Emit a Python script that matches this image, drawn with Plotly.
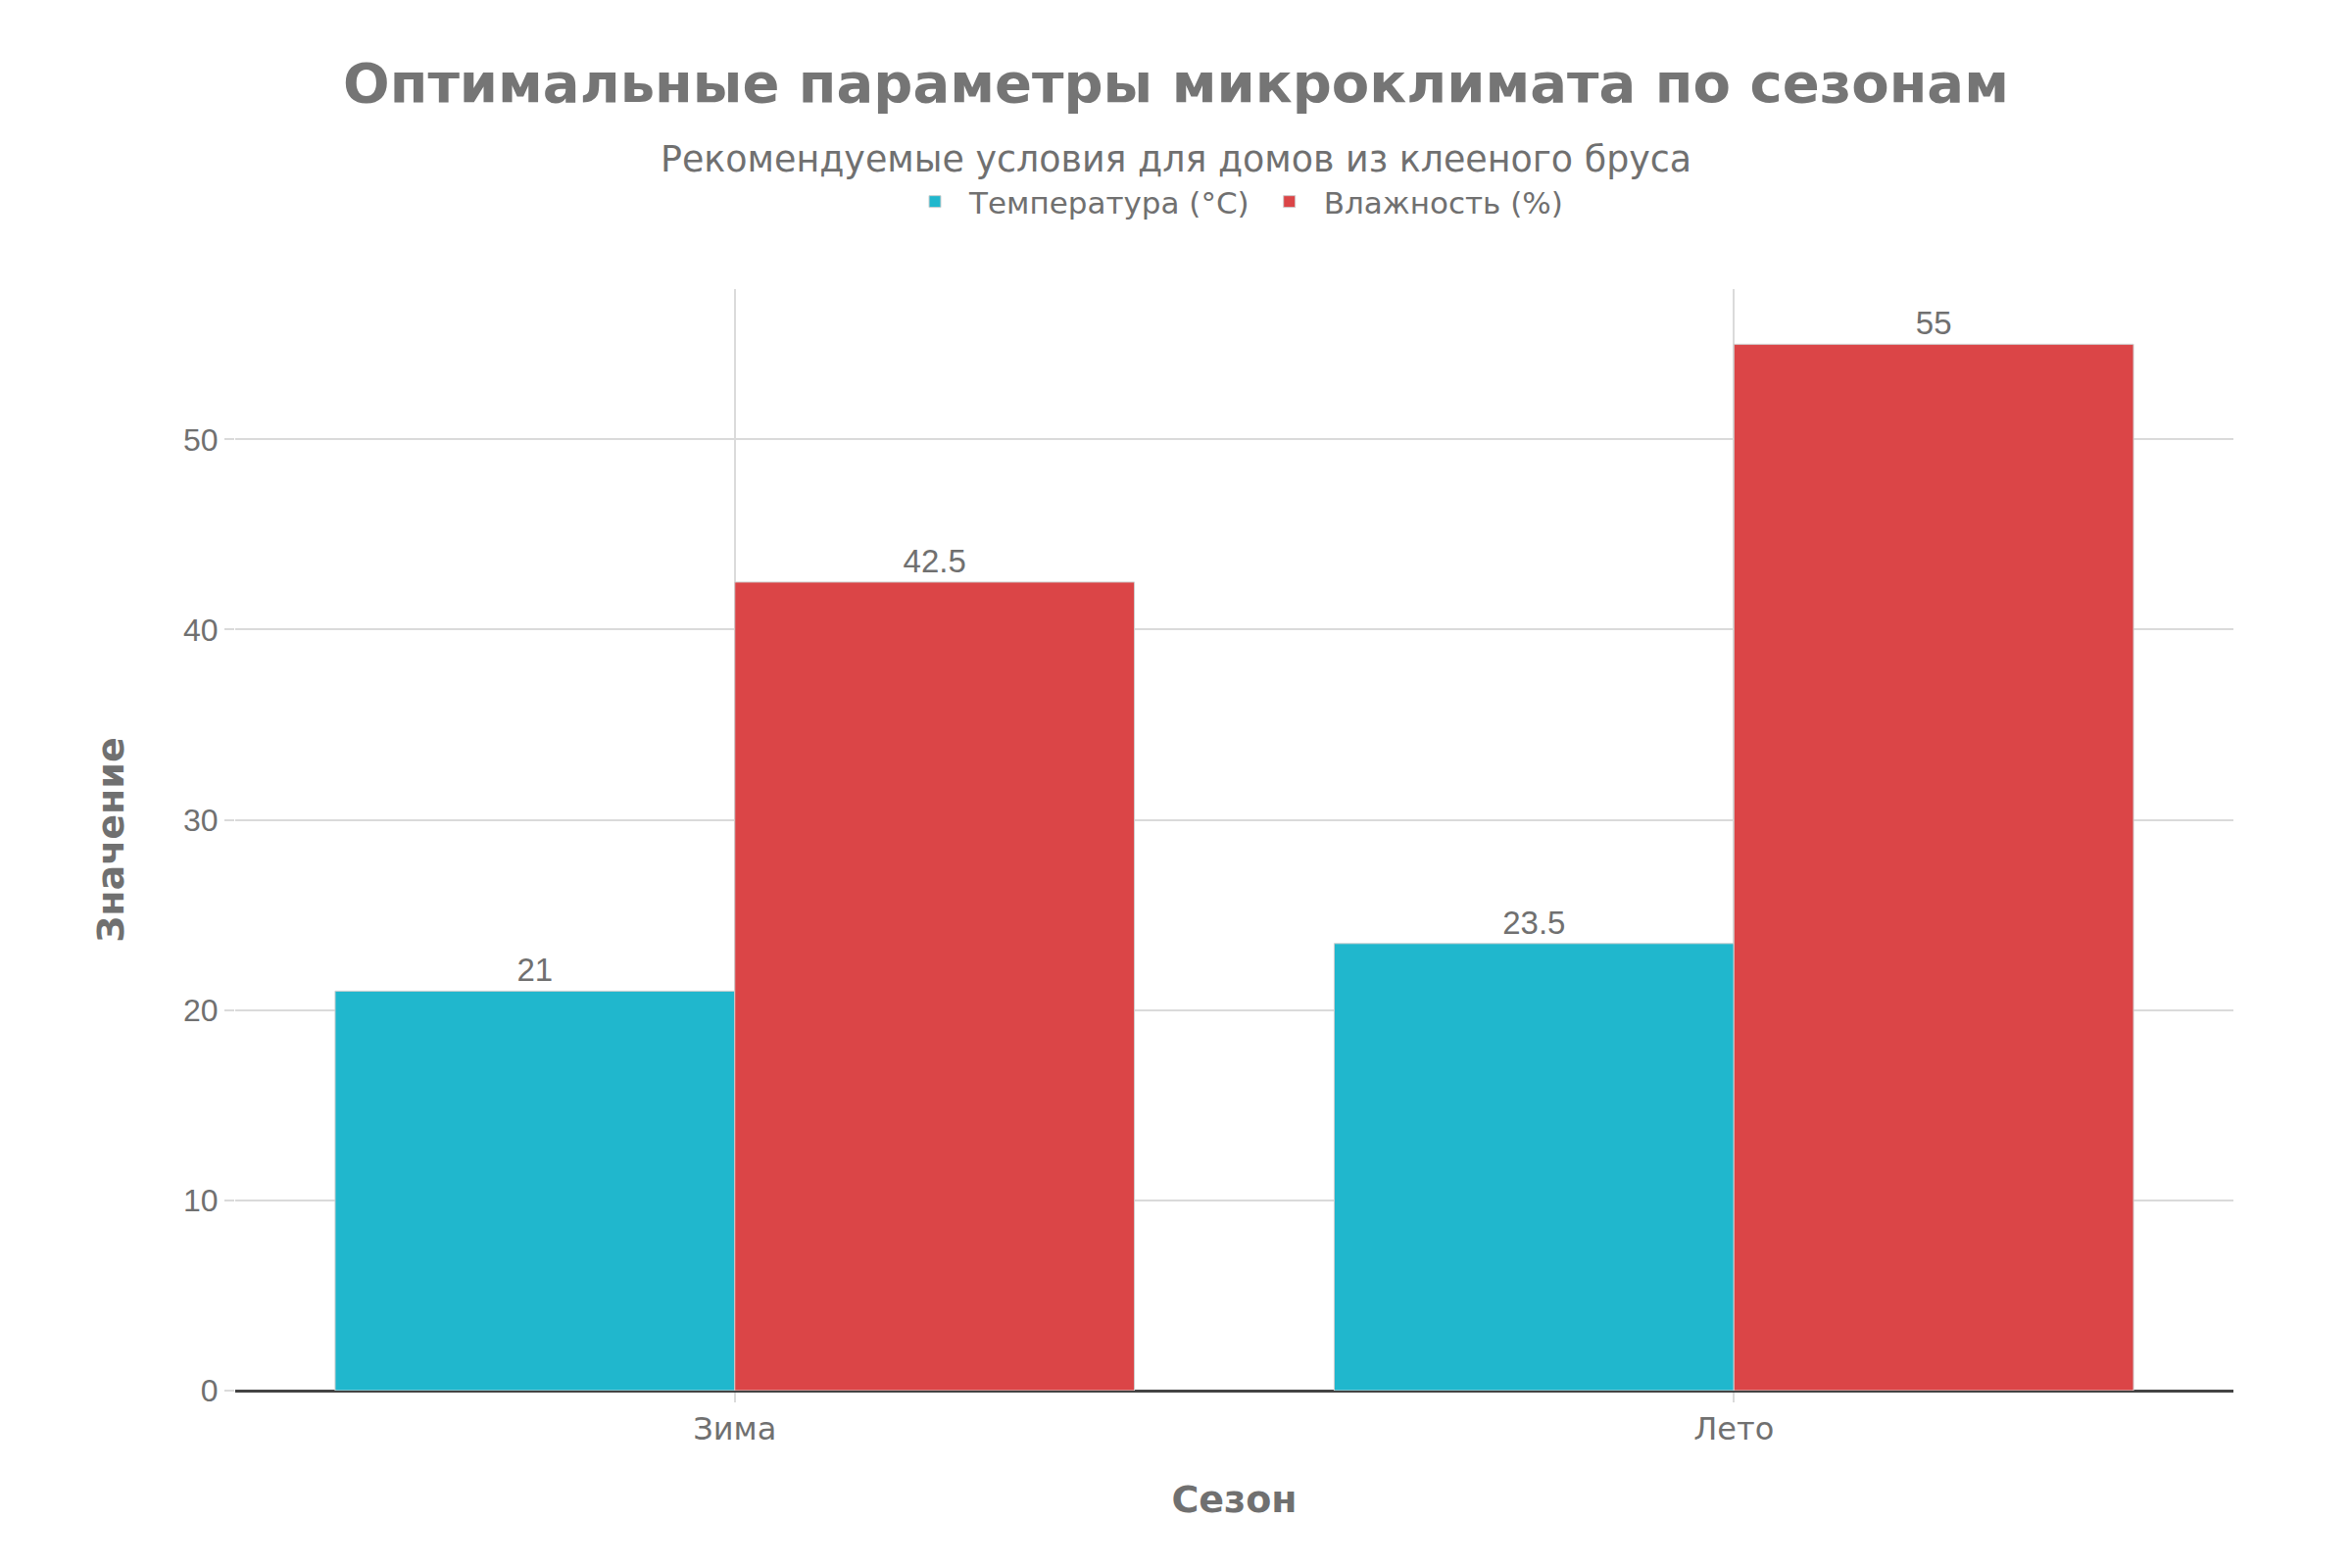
import plotly.graph_objects as go

seasons = ["Зима", "Лето"]
temperature = [21, 23.5]
humidity = [42.5, 55]
series_names = ["Температура (°C)", "Влажность (%)"]

NUM = "Liberation Sans, Arial, sans-serif"
TXTF = "DejaVu Sans, sans-serif"
TXT = "#707070"
GRID = "#dadada"

W, H = 2400, 1600
ML, MR, MT, MB = 240, 121, 295, 181

fig = go.Figure()
fig.add_trace(go.Bar(
    x=seasons, y=temperature, name=series_names[0],
    marker=dict(color="#20B7CD", line=dict(color="#cfcfcf", width=1)),
    text=[f"{v:g}" for v in temperature], textposition="outside",
    textfont=dict(size=33, color=TXT, family=NUM), cliponaxis=False,
))
fig.add_trace(go.Bar(
    x=seasons, y=humidity, name=series_names[1],
    marker=dict(color="#DB4547", line=dict(color="#cfcfcf", width=1)),
    text=[f"{v:g}" for v in humidity], textposition="outside",
    textfont=dict(size=33, color=TXT, family=NUM), cliponaxis=False,
))

fig.update_layout(
    width=W, height=H,
    paper_bgcolor="white", plot_bgcolor="white",
    font=dict(family=TXTF, color=TXT, size=30),
    margin=dict(l=ML, r=MR, t=MT, b=MB),
    title=dict(
        text="Оптимальные параметры микроклимата по сезонам",
        x=0.5, xanchor="center", y=(H - 84) / H, yanchor="middle",
        font=dict(family=TXTF, size=56, color="#757575", weight="bold"),
    ),
    annotations=[dict(
        text="Рекомендуемые условия для домов из клееного бруса",
        xref="paper", yref="paper", x=(W / 2 - ML) / (W - ML - MR), y=1,
        xanchor="center", yanchor="middle", yshift=MT - 162,
        showarrow=False,
        font=dict(family=TXTF, size=36.4, color=TXT),
    )],
    legend=dict(
        orientation="h", x=0.5, xanchor="center", y=(H - 206) / H, yanchor="middle",
        yref="container", font=dict(family=TXTF, size=31, color=TXT),
        bgcolor="rgba(0,0,0,0)", itemwidth=60,
    ),
    barmode="group", bargap=0.2, bargroupgap=0,
    xaxis=dict(
        title=dict(text="Сезон", font=dict(family=TXTF, size=38, color=TXT, weight="bold"), standoff=40),
        showgrid=True, gridcolor=GRID, gridwidth=2,
        ticks="outside", tickcolor=GRID, ticklen=10, tickwidth=2,
        tickfont=dict(family=TXTF, size=32, color=TXT),
        showline=True, linecolor="#444", linewidth=2,
    ),
    yaxis=dict(
        title=dict(text="Значение", font=dict(family=TXTF, size=38, color=TXT, weight="bold"), standoff=48),
        range=[0, 57.9],
        showgrid=True, gridcolor=GRID, gridwidth=2,
        ticks="outside", tickcolor=GRID, ticklen=10, tickwidth=2,
        tickfont=dict(family=NUM, size=32, color=TXT),
        zeroline=True, zerolinecolor="#444", zerolinewidth=2,
        dtick=10,
    ),
)

fig.write_html("out.html")
